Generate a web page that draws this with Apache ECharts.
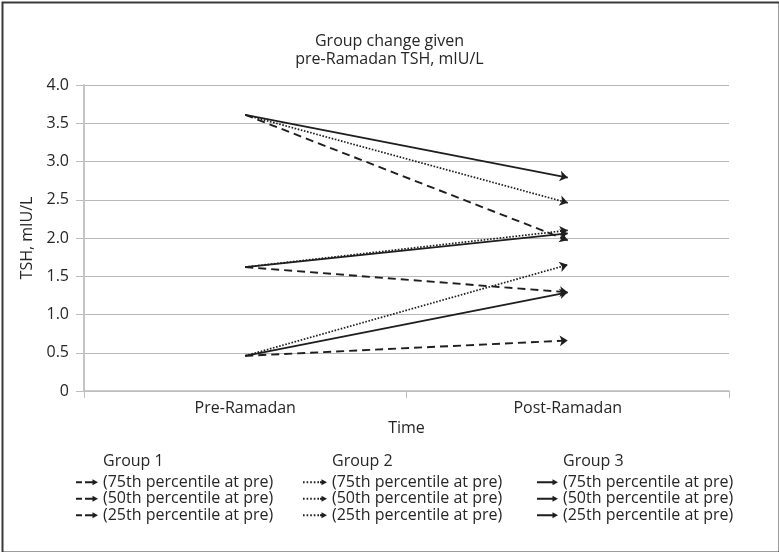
<!DOCTYPE html>
<html><head><meta charset="utf-8">
<script src="https://cdn.jsdelivr.net/npm/echarts@6/dist/echarts.min.js"></script>
<style>html,body{margin:0;padding:0;background:#fff}#c{width:779px;height:552px}</style>
</head><body><div id="c"></div>
<script>
const categories = ['Pre-Ramadan', 'Post-Ramadan'];
const yTicks = [0, 0.5, 1.0, 1.5, 2.0, 2.5, 3.0, 3.5, 4.0];
const percentiles = ['(75th percentile at pre)', '(50th percentile at pre)', '(25th percentile at pre)'];
const groups = ['Group 1', 'Group 2', 'Group 3'];
// [pre, post] per percentile
const group1 = [[3.61, 1.97], [1.62, 1.29], [0.46, 0.66]];
const group2 = [[3.61, 2.46], [1.62, 2.10], [0.46, 1.65]];
const group3 = [[3.61, 2.79], [1.62, 2.06], [0.46, 1.29]];

const FONT = "'Open Sans', 'Noto Sans', sans-serif";
const FS = 16;
const INK = '#1e1e1e';
const TXT = '#262626';
const styles = [
  {type: [8, 5], width: 1.9},
  {type: [1.6, 1.6], width: 1.7},
  {type: 'solid', width: 1.9}
];
const icons = [
  'path://M0,2.1h6v1.8h-6z M9,2.1h8v1.8h-8z M16.5,0L22,3L16.5,6z',
  'path://M0,2.1h1.6v1.8h-1.6z M3.6,2.1h1.6v1.8h-1.6z M7.2,2.1h1.6v1.8h-1.6z M10.8,2.1h1.6v1.8h-1.6z M14.4,2.1h1.6v1.8h-1.6z M17,2.1h3v1.8h-3z M18.5,0L24,3L18.5,6z',
  'path://M0,2.0h17v2h-17z M15.5,0L21,3L15.5,6z'
];
const iconWidths = [22, 24, 21];
const allGroups = [group1, group2, group3];
const series = [];
allGroups.forEach((g, gi) => {
  g.forEach((vals, pi) => {
    series.push({
      type: 'lines',
      coordinateSystem: 'cartesian2d',
      name: groups[gi] + ' ' + percentiles[pi],
      symbol: ['none', 'arrow'],
      symbolSize: 8,
      lineStyle: {color: INK, width: styles[gi].width, type: styles[gi].type, opacity: 1},
      itemStyle: {color: INK},
      data: [{coords: [[categories[0], vals[0]], [categories[1], vals[1]]]}]
    });
  });
});
const legendLefts = [76, 303, 537];
const legends = groups.map((g, gi) => ({
  orient: 'vertical',
  left: legendLefts[gi],
  top: 474,
  padding: 0,
  itemWidth: iconWidths[gi],
  itemHeight: 6,
  itemGap: 0,
  icon: icons[gi],
  itemStyle: {color: INK, borderWidth: 0},
  lineStyle: {width: 0},
  data: percentiles.map(p => ({name: g + ' ' + p, icon: icons[gi]})),
  formatter: n => n.replace(g + ' ', ''),
  textStyle: {fontFamily: FONT, fontSize: FS, color: TXT, lineHeight: 16.5},
  selectedMode: false
}));
const titles = [{
  text: 'Group change given\npre-Ramadan TSH, mIU/L',
  left: 'center', top: 32, padding: 0,
  textStyle: {fontFamily: FONT, fontSize: FS, fontWeight: 'normal', color: TXT, lineHeight: 18}
}].concat(groups.map((g, gi) => ({
  text: g, left: legendLefts[gi] + iconWidths[gi] + 5, top: 452, padding: 0,
  textStyle: {fontFamily: FONT, fontSize: FS, fontWeight: 'normal', color: TXT, lineHeight: 18}
})));

const chart = echarts.init(document.getElementById('c'));
chart.setOption({
  animation: false,
  title: titles,
  legend: legends,
  grid: {left: 84, right: 50, top: 85, bottom: 161, containLabel: false},
  xAxis: {
    type: 'category', data: categories, boundaryGap: true,
    name: 'Time', nameLocation: 'middle', nameGap: 29,
    nameTextStyle: {fontFamily: FONT, fontSize: FS, color: TXT},
    axisLine: {lineStyle: {color: '#bdbdbd', width: 1.6}},
    axisTick: {show: true, length: 7, lineStyle: {color: '#bdbdbd'}},
    axisLabel: {fontFamily: FONT, fontSize: FS, color: TXT, margin: 9}
  },
  yAxis: {
    type: 'value', min: 0, max: 4, interval: 0.5,
    name: 'TSH, mIU/L', nameLocation: 'middle', nameGap: 46,
    nameTextStyle: {fontFamily: FONT, fontSize: FS, color: TXT},
    axisLine: {show: true, lineStyle: {color: '#c4c4c4', width: 2}},
    axisTick: {show: true, length: 8, lineStyle: {color: '#bdbdbd'}},
    axisLabel: {fontFamily: FONT, fontSize: FS, color: TXT, margin: 15,
      formatter: v => v === 0 ? '0' : v.toFixed(1)},
    splitLine: {lineStyle: {color: '#b8b8b8', width: 1.2}}
  },
  graphic: [{type: 'rect', left: 0, top: 0, shape: {x: 1, y: 1, width: 777, height: 550},
    style: {fill: 'none', stroke: '#3a3a3a', lineWidth: 2}}],
  series: series
});
</script></body></html>
